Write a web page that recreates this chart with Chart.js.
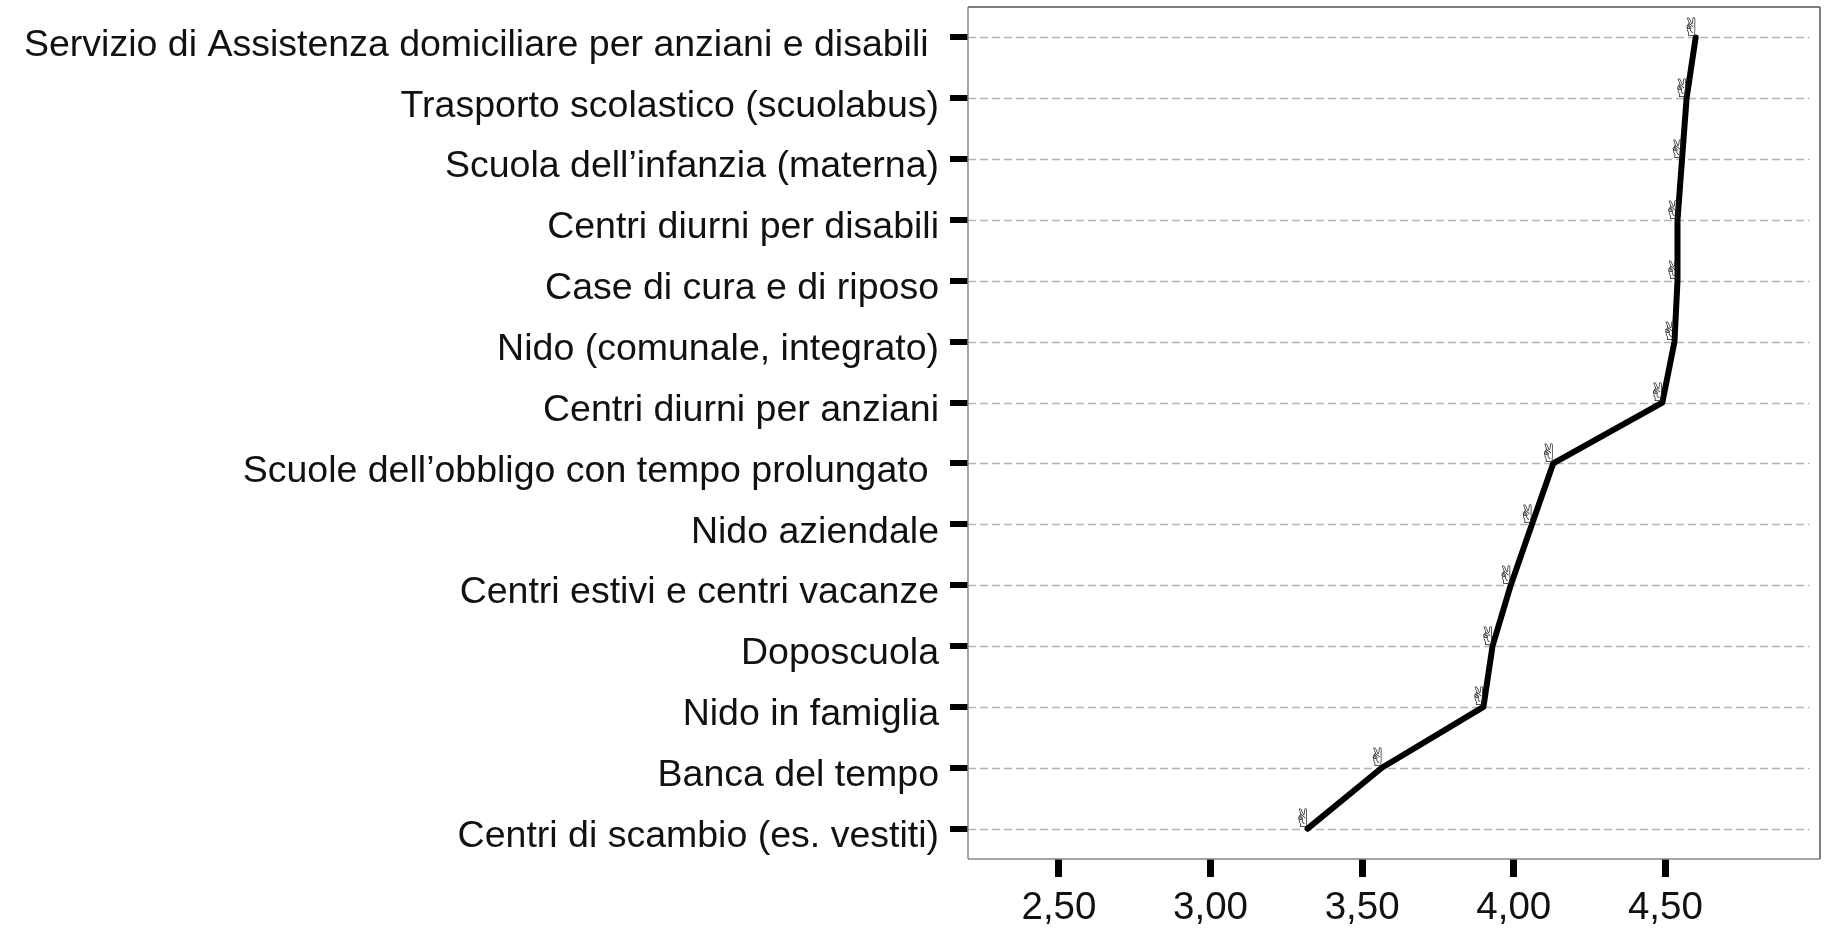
<!DOCTYPE html>
<html><head><meta charset="utf-8">
<style>html,body{margin:0;padding:0;background:#fff}#w{position:relative;width:1829px;height:928px}</style>
<script src="https://cdn.jsdelivr.net/npm/chart.js@4"></script>
</head><body><div id="w"><canvas id="c" width="1829" height="928"></canvas></div>
<script>
const categories = ["Servizio di Assistenza domiciliare per anziani e disabili ","Trasporto scolastico (scuolabus)","Scuola dell’infanzia (materna)","Centri diurni per disabili","Case di cura e di riposo","Nido (comunale, integrato)","Centri diurni per anziani","Scuole dell’obbligo con tempo prolungato ","Nido aziendale","Centri estivi e centri vacanze","Doposcuola","Nido in famiglia","Banca del tempo","Centri di scambio (es. vestiti)"];
const values = [4.60,4.57,4.555,4.54,4.54,4.53,4.49,4.13,4.06,3.99,3.93,3.90,3.565,3.32];
const xTicks = [2.5,3,3.5,4,4.5];

const refDecor = {
  id:'refDecor',
  beforeDatasetsDraw(ch){
    const {ctx,chartArea:a,scales:{x,y}}=ch;
    ctx.save();
    ctx.strokeStyle='#b4b4b4';ctx.lineWidth=1.3;ctx.setLineDash([8,4]);
    const end=x.getPixelForValue(4.975);
    y.ticks.forEach((t,i)=>{const p=Math.round(y.getPixelForTick(i))+.5;ctx.beginPath();ctx.moveTo(a.left,p);ctx.lineTo(end,p);ctx.stroke();});
    ctx.restore();
  },
  afterDatasetsDraw(ch){
    const {ctx,chartArea:a}=ch;
    ctx.save();
    ctx.font='25px "DejaVu Sans"';ctx.fillStyle='#222';ctx.textAlign='center';ctx.textBaseline='middle';
    ch.getDatasetMeta(0).data.forEach(e=>ctx.fillText('\u270C',e.x-4,e.y-8));
    const side=(c,x1,y1,x2,y2)=>{ctx.strokeStyle=c;ctx.lineWidth=1.5;ctx.beginPath();ctx.moveTo(x1,y1);ctx.lineTo(x2,y2);ctx.stroke();};
    side('#888',a.left,a.top,a.left,a.bottom);
    side('#888',a.left,a.bottom,a.right,a.bottom);
    side('#555',a.left,a.top,a.right,a.top);
    side('#555',a.right,a.top,a.right,a.bottom);
    ctx.restore();
  }
};
new Chart(document.getElementById('c'),{
  type:'line',
  data:{labels:categories,datasets:[{data:values,borderColor:'#000',borderWidth:6,pointRadius:0,tension:0,borderCapStyle:'round',borderJoinStyle:'round'}]},
  plugins:[refDecor],
  options:{
    indexAxis:'y',responsive:false,animation:false,
    layout:{padding:{top:7,right:9,bottom:0,left:0},autoPadding:false},
    plugins:{legend:{display:false},tooltip:{enabled:false}},
    scales:{
      x:{type:'linear',min:2.2,max:5.01,
        afterBuildTicks(s){s.ticks=xTicks.map(v=>({value:v}));},
        afterFit(s){s.height=69;s.paddingLeft=0;s.paddingRight=0;},
        grid:{drawOnChartArea:false,color:'#000',lineWidth:7,tickLength:18},
        border:{display:false},
        ticks:{autoSkip:false,maxRotation:0,padding:8,color:'#111',font:{family:'"Liberation Sans"',size:38.5},callback:v=>v.toFixed(2).replace('.',',')}
      },
      y:{type:'category',offset:true,
        afterFit(s){s.width=968;s.paddingTop=0;s.paddingBottom=0;},
        grid:{drawOnChartArea:false,color:'#000',lineWidth:6,tickLength:18,offset:false},
        border:{display:false},
        ticks:{autoSkip:false,padding:11,labelOffset:8,color:'#111',font:{family:'"Liberation Sans"',size:37.5}}
      }
    }
  }
});
</script></body></html>
